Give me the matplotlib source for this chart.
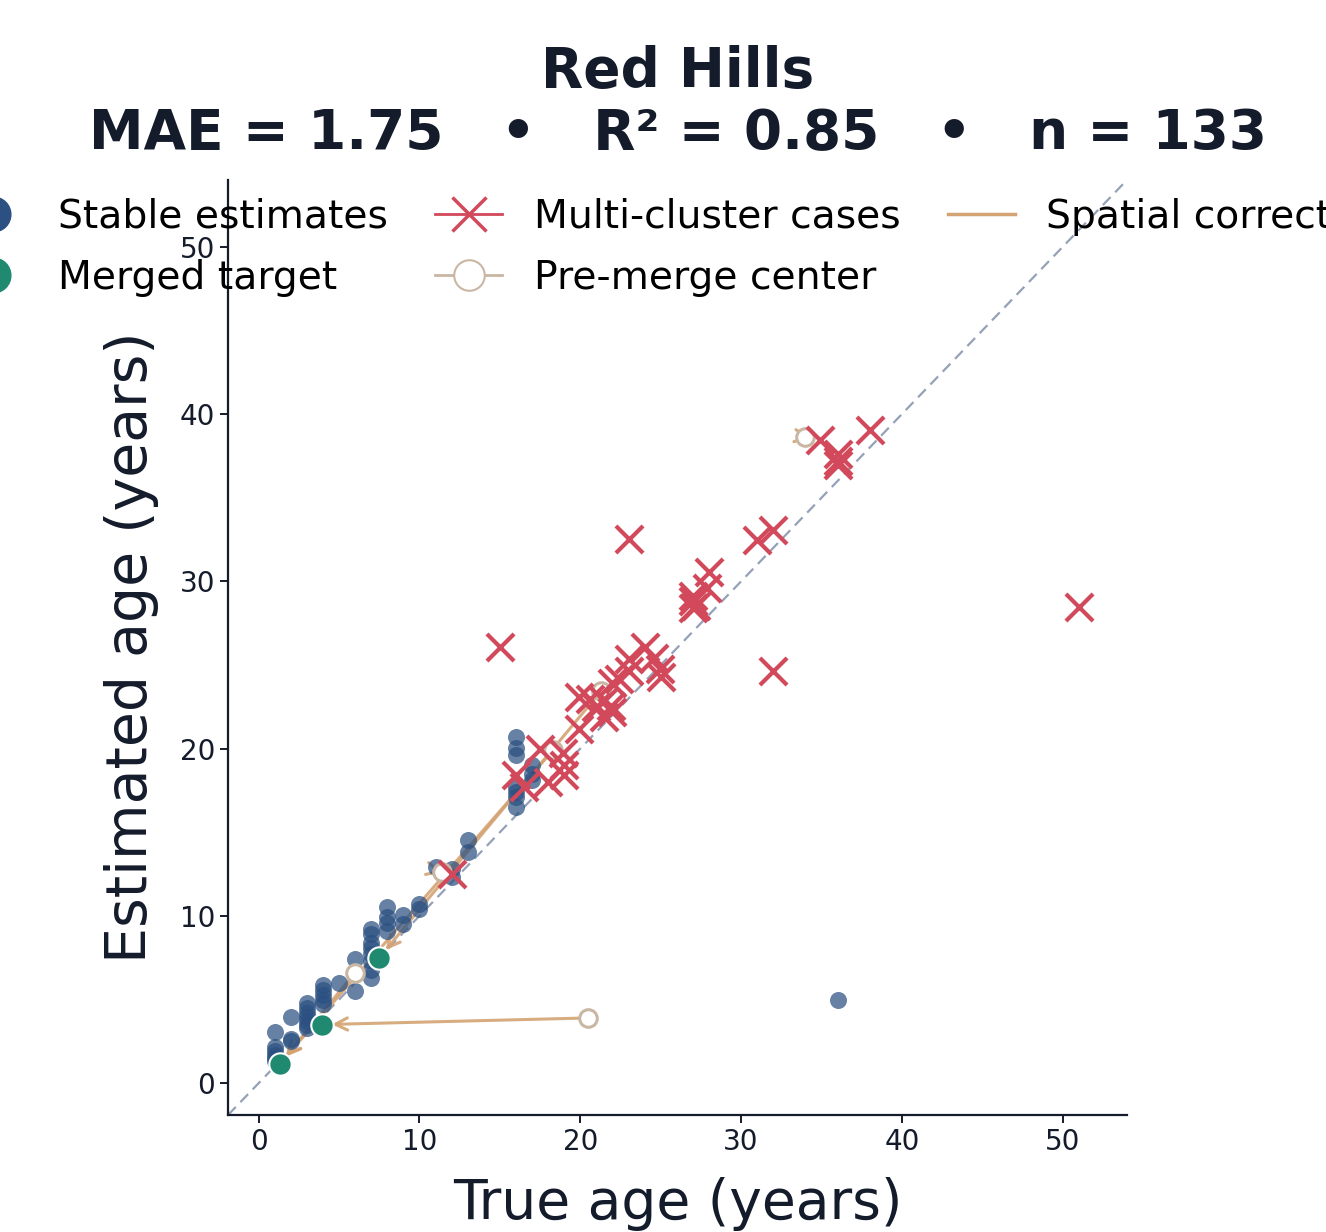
import matplotlib.pyplot as plt
from matplotlib.lines import Line2D

BLUE = '#2b5081'
GREEN = '#1f8a70'
RED = '#d1495b'
TAN = '#d4a373'
PRE = '#c9b6a3'
INK = '#141b2b'

# stable estimates (true, estimated)
stable_x = [1, 1, 1, 1, 1, 1,
            2, 2, 2,
            3, 3, 3, 3, 3, 3, 3,
            4, 4, 4, 4, 4,
            5, 6, 6,
            7, 7, 7, 7, 7, 7, 7, 7,
            8, 8, 8, 8,
            9, 9, 10, 10, 11, 12, 12, 13, 13,
            16, 16, 16, 16, 16, 16, 16,
            17, 17, 17, 36]
stable_y = [3.05, 2.15, 1.95, 1.7, 1.5, 1.35,
            3.95, 2.65, 2.5,
            4.8, 4.5, 4.2, 3.95, 3.7, 3.45, 3.3,
            5.85, 5.55, 5.25, 5.0, 4.75,
            6.0, 7.4, 5.5,
            9.2, 8.9, 8.4, 8.1, 7.7, 7.3, 6.75, 6.3,
            10.55, 9.95, 9.55, 9.1,
            10.05, 9.5, 10.7, 10.4, 12.9, 12.8, 12.3, 14.55, 13.8,
            20.7, 20.05, 19.6, 17.7, 17.4, 17.1, 16.5,
            19.05, 18.5, 18.1, 4.95]

# multi-cluster cases
multi_x = [12.0, 15.0, 16.0, 16.5, 17.5, 18.0, 18.9, 19.0, 19.0, 19.9,
           19.95, 20.6, 21.0, 21.5, 21.5, 21.9, 22.0, 22.0, 22.4, 23.0,
           23.0, 24.0, 24.6, 24.95, 25.0, 23.0, 27.0, 27.0, 27.0, 27.2,
           28.0, 27.9, 31.0, 32.0, 32.0, 34.9, 36.0, 36.0, 36.0, 38.0, 51.0]
multi_y = [12.5, 26.05, 18.45, 17.7, 20.0, 18.0, 19.75, 19.0, 18.4, 21.15,
           23.1, 22.95, 22.5, 22.85, 21.9, 22.55, 22.2, 23.9, 24.15, 24.65,
           25.35, 26.1, 25.4, 24.75, 24.3, 32.55, 29.1, 28.8, 28.4, 28.5,
           30.55, 29.6, 32.45, 33.05, 24.65, 38.45, 37.6, 37.2, 36.95, 39.05, 28.45]

# merged targets
merged_x = [1.3, 3.95, 7.5]
merged_y = [1.15, 3.5, 7.5]

# pre-merge centers and where the correction moved them
pre_x = [21.3, 18.3, 11.4, 6.0, 20.5, 34.0]
pre_y = [23.45, 19.9, 12.6, 6.6, 3.9, 38.6]
post_x = [7.5, 1.3, 12.0, 1.3, 3.95, 34.9]
post_y = [7.5, 1.15, 12.45, 1.15, 3.5, 38.45]

fig = plt.figure(figsize=(13.26, 12.32), dpi=100)
ax = fig.add_axes([0.172, 0.095, 0.678, 0.759])

lo, hi = -1.9, 54.0
ax.plot([lo, hi], [lo, hi], ls=(0, (5, 3)), color='#95a1b8', lw=1.6, zorder=1)

for x0, y0, x1, y1 in zip(pre_x, pre_y, post_x, post_y):
    ax.annotate('', xy=(x1, y1), xytext=(x0, y0),
                arrowprops=dict(arrowstyle='->', color=TAN, lw=2.2, alpha=0.9,
                                shrinkA=0, shrinkB=7, mutation_scale=22),
                zorder=2)

ax.scatter(stable_x, stable_y, s=150, color=BLUE, alpha=0.72, linewidths=0, zorder=3)
ax.scatter(pre_x, pre_y, s=160, facecolors='white', edgecolors=PRE, linewidths=2.2, zorder=4)
ax.scatter(merged_x, merged_y, s=260, color=GREEN, edgecolors='white', linewidths=1.5, zorder=5)
ax.scatter(multi_x, multi_y, s=380, marker='x', color=RED, linewidths=3, zorder=6)

ax.set_xlim(lo, hi)
ax.set_ylim(lo, hi)
ax.set_xticks([0, 10, 20, 30, 40, 50])
ax.set_yticks([0, 10, 20, 30, 40, 50])
ax.tick_params(labelsize=20, colors=INK, length=6, width=1.4)
for side in ['top', 'right']:
    ax.spines[side].set_visible(False)
for side in ['left', 'bottom']:
    ax.spines[side].set_color(INK)
    ax.spines[side].set_linewidth(1.6)

ax.set_xlabel('True age (years)', fontsize=39.7, color=INK, labelpad=15)
ax.set_ylabel('Estimated age (years)', fontsize=41, color=INK, labelpad=15)
ax.set_title('Red Hills\nMAE = 1.75   •   R² = 0.85   •   n = 133',
             fontsize=39.5, fontweight='bold', color=INK, pad=22)

handles = [
    Line2D([], [], marker='o', ls='none', markersize=25, color=BLUE),
    Line2D([], [], marker='o', ls='none', markersize=25, color=GREEN),
    Line2D([], [], marker='x', color=RED, lw=2, markersize=25, markeredgewidth=2.5),
    Line2D([], [], marker='o', color=PRE, lw=2, markersize=22,
           markerfacecolor='white', markeredgecolor=PRE, markeredgewidth=1.5),
    Line2D([], [], color=TAN, lw=2.5),
]
labels = ['Stable estimates', 'Merged target', 'Multi-cluster cases',
          'Pre-merge center', 'Spatial correction']
ax.legend(handles, labels, loc='upper center', bbox_to_anchor=(0.4975, 1.006),
          ncol=3, fontsize=28.3, frameon=False, handlelength=1.7,
          columnspacing=1.21, labelspacing=0.58, borderaxespad=0.2)

fig.savefig('out.png', dpi=100, facecolor='white')
